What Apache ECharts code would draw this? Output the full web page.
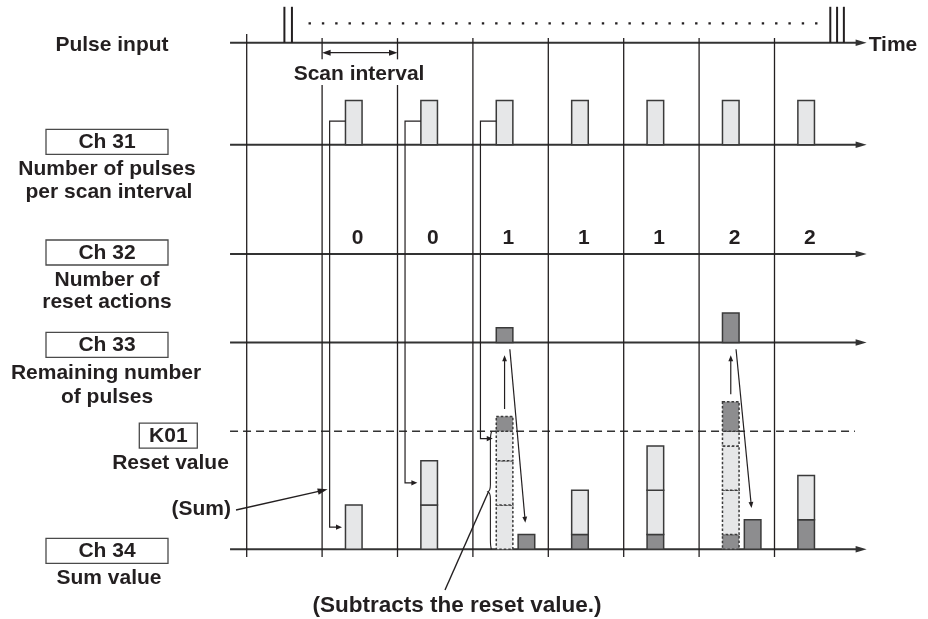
<!DOCTYPE html>
<html><head><meta charset="utf-8">
<script src="https://cdn.jsdelivr.net/npm/echarts@6/dist/echarts.min.js"></script>
<style>html,body{margin:0;padding:0;background:#fff}#c{width:928px;height:619px}</style>
</head><body><div id="c"></div>
<script>
// ---------------- data ----------------
const scanIndex        = [1, 2, 3, 4, 5, 6, 7];
const pulsesPerScan    = [3, 3, 3, 3, 3, 3, 3];   // Ch 31
const resetActions     = [0, 0, 1, 1, 1, 2, 2];   // Ch 32
const carriedRemainder = [0, 0, 0, 1, 1, 1, 2];   // remainder carried into each scan
const sumBeforeReset   = [3, 6, 9, 4, 7, 10, 5];  // Ch 34 accumulation
const remainingPulses  = [0, 0, 1, 0, 0, 2, 0];   // Ch 33
const sumAfterReset    = [3, 6, 1, 4, 7, 2, 5];   // Ch 34 after subtracting K01
const resetValue       = 8;                        // K01
const scanLines        = [0, 1, 2, 3, 4, 5, 6, 7];
const pulseTimesStart  = [0.5, 0.6];
const pulseTimesEnd    = [7.74, 7.83, 7.92];
const connectorScans   = [1, 2, 3];

// ---------------- layout / style ----------------
const LANE = { pulse: 34.3, ch31: 27.4, ch32: 20, ch33: 14, ch34: 0 };
const laneList = [LANE.pulse, LANE.ch31, LANE.ch32, LANE.ch33, LANE.ch34];
const INK = '#231f20', AXIS = '#333333', LIGHT = '#e6e7e8', DARK = '#8d8d8f', EDGE = '#3a3a3a';
const FONT = 'bold 21px "Liberation Sans", Arial, Helvetica, sans-serif';
const FONT_CALLOUT = 'bold 22.5px "Liberation Sans", Arial, Helvetica, sans-serif';
const X_START = -0.221, X_TIP = 8.222;
const BAR_L = 0.31, BAR_R = 0.53, BAR_C = 0.42, RES_OFF = 0.29;

function ln(p1, p2, style) {
  return { type: 'line', shape: { x1: p1[0], y1: p1[1], x2: p2[0], y2: p2[1] }, style: style };
}
function head(tip, from, len, half, fill) {
  const dx = tip[0] - from[0], dy = tip[1] - from[1];
  const d = Math.hypot(dx, dy) || 1, ux = dx / d, uy = dy / d;
  const bx = tip[0] - ux * len, by = tip[1] - uy * len;
  return { type: 'polygon', shape: { points: [[tip[0], tip[1]], [bx - uy * half, by + ux * half], [bx + uy * half, by - ux * half]] }, style: { fill: fill || INK } };
}
function arrow(from, tip, len, half, w, col) {
  const dx = tip[0] - from[0], dy = tip[1] - from[1];
  const d = Math.hypot(dx, dy) || 1;
  const end = [tip[0] - dx / d * (len * 0.7), tip[1] - dy / d * (len * 0.7)];
  return [ln(from, end, { stroke: col || INK, lineWidth: w || 1.2 }), head(tip, from, len, half, col || INK)];
}
function txt(p, s, align, font) {
  return { type: 'text', x: p[0], y: p[1], style: { text: s, font: font || FONT, fill: INK, align: align || 'center', verticalAlign: 'middle' } };
}
function rectPx(a, b, style) {
  const x = Math.min(a[0], b[0]), y = Math.min(a[1], b[1]);
  return { type: 'rect', shape: { x: x, y: y, width: Math.abs(b[0] - a[0]), height: Math.abs(b[1] - a[1]) }, style: style };
}

const base = { type: 'custom', coordinateSystem: 'cartesian2d', silent: true, animation: false, clip: false };
const series = [];

// lanes (horizontal time axes)
series.push(Object.assign({}, base, {
  data: laneList.map(v => [0, v]),
  renderItem: (p, api) => {
    const y = api.value(1);
    const a = api.coord([X_START, y]), t = api.coord([X_TIP, y]);
    return { type: 'group', children: arrow(a, t, 11, 3.2, 2, AXIS) };
  }
}));

// K01 reset value dashed line
series.push(Object.assign({}, base, {
  data: [[0, resetValue]],
  renderItem: (p, api) => {
    const y = api.value(1);
    return ln(api.coord([X_START, y]), api.coord([8.067, y]), { stroke: AXIS, lineWidth: 1.5, lineDash: [8, 5] });
  }
}));

// scan boundary lines
series.push(Object.assign({}, base, {
  data: scanLines.map(i => [i, 0]),
  renderItem: (p, api) => {
    const x = api.value(0);
    const st = { stroke: INK, lineWidth: 1.3 };
    const top = x === 0 ? 34.9 : 34.62, bot = -0.52;
    if (x === 1 || x === 2) {
      return { type: 'group', children: [
        ln(api.coord([x, top]), api.coord([x, 33.18]), st),
        ln(api.coord([x, 31.45]), api.coord([x, bot]), st)
      ]};
    }
    return ln(api.coord([x, top]), api.coord([x, bot]), st);
  }
}));

// pulse input marks
series.push(Object.assign({}, base, {
  data: pulseTimesStart.concat(pulseTimesEnd).map(t => [t, LANE.pulse]),
  renderItem: (p, api) => {
    const x = api.value(0), y = api.value(1);
    return ln(api.coord([x, y]), api.coord([x, 36.74]), { stroke: INK, lineWidth: 2 });
  }
}));

// frame: dotted continuation, scan interval, Time
series.push(Object.assign({}, base, {
  data: [[1, 2]],
  renderItem: (p, api) => {
    const s0 = api.value(0), s1 = api.value(1);
    const ch = [];
    ch.push(ln(api.coord([0.82, 35.62]), api.coord([7.6, 35.62]), { stroke: INK, lineWidth: 2.4, lineDash: [2.4, 10.93] }));
    const a = api.coord([s0, 33.63]), b = api.coord([s1, 33.63]);
    ch.push(ln([a[0] + 6, a[1]], [b[0] - 6, b[1]], { stroke: INK, lineWidth: 1.3 }));
    ch.push(head(a, b, 8.5, 3));
    ch.push(head(b, a, 8.5, 3));
    ch.push(txt(api.coord([(s0 + s1) / 2 - 0.01, 32.2]), 'Scan interval'));
    const tp = api.coord([X_TIP, LANE.pulse]);
    ch.push(txt([tp[0] + 2, tp[1] + 2], 'Time', 'left'));
    return { type: 'group', children: ch };
  }
}));

// Ch31 bars
series.push(Object.assign({}, base, {
  data: scanIndex.map((s, i) => [s, pulsesPerScan[i]]),
  renderItem: (p, api) => {
    const s = api.value(0), v = api.value(1);
    return rectPx(api.coord([s + BAR_L, LANE.ch31 + v]), api.coord([s + BAR_R, LANE.ch31]), { fill: LIGHT, stroke: EDGE, lineWidth: 1.5 });
  }
}));

// Ch32 numbers
series.push(Object.assign({}, base, {
  data: scanIndex.map((s, i) => [s, resetActions[i]]),
  renderItem: (p, api) => {
    const s = api.value(0), v = api.value(1);
    return txt(api.coord([s + 0.47, LANE.ch32 + 1.05]), String(v));
  }
}));

// Ch33 bars (only when a reset happens)
series.push(Object.assign({}, base, {
  data: scanIndex.map((s, i) => [s, remainingPulses[i], sumBeforeReset[i]]),
  renderItem: (p, api) => {
    const s = api.value(0), v = api.value(1), sum = api.value(2);
    if (sum < resetValue) return null;
    return rectPx(api.coord([s + BAR_L, LANE.ch33 + v]), api.coord([s + BAR_R, LANE.ch33]), { fill: DARK, stroke: EDGE, lineWidth: 1.5 });
  }
}));

// Ch34 bars
series.push(Object.assign({}, base, {
  data: scanIndex.map((s, i) => [s, sumBeforeReset[i], carriedRemainder[i], pulsesPerScan[i], sumAfterReset[i]]),
  renderItem: (p, api) => {
    const s = api.value(0), sum = api.value(1), carry = api.value(2), step = api.value(3), after = api.value(4);
    const reset = sum >= resetValue;
    const bounds = [0];
    if (carry > 0) bounds.push(carry);
    for (let v = carry + step; v < sum; v += step) bounds.push(v);
    if (reset) bounds.push(resetValue);
    bounds.push(sum);
    const bs = Array.from(new Set(bounds)).sort((a, b) => a - b);
    const ch = [];
    const st = reset ? { stroke: EDGE, lineWidth: 1.5, lineDash: [2.5, 2] } : { stroke: EDGE, lineWidth: 1.5 };
    for (let k = 0; k < bs.length - 1; k++) {
      const lo = bs[k], hi = bs[k + 1];
      const dark = hi <= carry || (reset && lo >= resetValue);
      ch.push(rectPx(api.coord([s + BAR_L, hi]), api.coord([s + BAR_R, lo]), Object.assign({ fill: dark ? DARK : LIGHT }, st)));
    }
    if (reset) {
      ch.push(rectPx(api.coord([s + BAR_L + RES_OFF, after]), api.coord([s + BAR_R + RES_OFF, 0]), { fill: DARK, stroke: EDGE, lineWidth: 1.5 }));
    }
    return { type: 'group', children: ch };
  }
}));

// connectors Ch31 -> Ch34
series.push(Object.assign({}, base, {
  data: connectorScans.map(s => [s, sumBeforeReset[s - 1] - pulsesPerScan[s - 1] / 2]),
  renderItem: (p, api) => {
    const s = api.value(0), ty = api.value(1);
    const a = api.coord([s + BAR_L, LANE.ch31 + 1.6]);
    const b = api.coord([s + 0.1, LANE.ch31 + 1.6]);
    const c = api.coord([s + 0.1, ty]);
    const tip = api.coord([s + BAR_L, ty]);
    tip[0] -= 3.5;
    const ch = [{ type: 'polyline', shape: { points: [a, b, c, [tip[0] - 3, tip[1]]] }, style: { stroke: INK, lineWidth: 1.2, fill: null } }];
    ch.push(head(tip, c, 6, 2.6));
    return { type: 'group', children: ch };
  }
}));

// reset arrows (Ch34 -> Ch33 -> Ch34)
series.push(Object.assign({}, base, {
  data: scanIndex.map((s, i) => [s, sumBeforeReset[i], sumAfterReset[i]]),
  renderItem: (p, api) => {
    const s = api.value(0), sum = api.value(1), after = api.value(2);
    if (sum < resetValue) return null;
    const ch = [];
    ch.push(...arrow(api.coord([s + BAR_C, sum + 0.5]), api.coord([s + BAR_C, LANE.ch33 - 0.85]), 6, 2.4, 1.2));
    ch.push(...arrow(api.coord([s + BAR_C + 0.07, LANE.ch33 - 0.45]), api.coord([s + BAR_C + RES_OFF - 0.015, after + 0.8]), 6, 2.4, 1.2));
    return { type: 'group', children: ch };
  }
}));

// brace + "(Subtracts the reset value.)" callout on the first reset
series.push(Object.assign({}, base, {
  data: [[scanIndex[sumBeforeReset.findIndex(v => v >= resetValue)], resetValue]],
  renderItem: (p, api) => {
    const s = api.value(0), r = api.value(1);
    const T = api.coord([s + 0.249, r]), B = api.coord([s + 0.245, 0]);
    const tip = api.coord([s + 0.2, 3.9]);
    const xm = api.coord([s + 0.232, 0])[0];
    const d = 'M' + T[0] + ',' + T[1] +
      ' C' + xm + ',' + (T[1] + 3) + ' ' + xm + ',' + (T[1] + 5) + ' ' + xm + ',' + (T[1] + 10) +
      ' L' + xm + ',' + (tip[1] - 7) +
      ' Q' + xm + ',' + (tip[1] - 1) + ' ' + tip[0] + ',' + tip[1] +
      ' Q' + xm + ',' + (tip[1] + 1) + ' ' + xm + ',' + (tip[1] + 7) +
      ' L' + xm + ',' + (B[1] - 10) +
      ' C' + xm + ',' + (B[1] - 5) + ' ' + xm + ',' + (B[1] - 3) + ' ' + B[0] + ',' + B[1];
    return { type: 'group', children: [
      { type: 'path', shape: { pathData: d }, style: { stroke: INK, lineWidth: 1.1, fill: null } },
      ln([tip[0] + 0.5, tip[1]], [445, 590], { stroke: INK, lineWidth: 1.4 }),
      txt([457, 606], '(Subtracts the reset value.)', 'center', FONT_CALLOUT)
    ]};
  }
}));

// (Sum) arrow pointing at first connector
series.push(Object.assign({}, base, {
  data: [[connectorScans[0], 4.06]],
  renderItem: (p, api) => {
    const s = api.value(0), y = api.value(1);
    const tip = api.coord([s + 0.1, y]);
    tip[0] -= 2;
    return { type: 'group', children: arrow([236, 510], tip, 10, 3.2, 1.4).concat([txt([231, 509.3], '(Sum)', 'right')]) };
  }
}));

// left labels
const LX = 107;
function box(cx, cy, w, label) {
  return [
    { type: 'rect', shape: { x: cx - w / 2, y: cy - 12.5, width: w, height: 25 }, style: { fill: '#fff', stroke: '#4a4a4a', lineWidth: 1.3 } },
    { type: 'text', x: cx, y: cy + 0.5, style: { text: label, font: FONT, fill: INK, align: 'center', verticalAlign: 'middle' } }
  ];
}
function gtxt(x, y, s, align) {
  return { type: 'text', x: x, y: y, style: { text: s, font: FONT, fill: INK, align: align || 'center', verticalAlign: 'middle' } };
}
const graphics = [].concat(
  [gtxt(112, 45, 'Pulse input')],
  box(LX, 141.8, 122, 'Ch 31'), [gtxt(LX, 169, 'Number of pulses'), gtxt(LX + 2, 192, 'per scan interval')],
  box(LX, 252.5, 122, 'Ch 32'), [gtxt(LX, 280, 'Number of'), gtxt(LX, 302, 'reset actions')],
  box(LX, 344.8, 122, 'Ch 33'), [gtxt(LX - 1, 373, 'Remaining number'), gtxt(LX, 397.5, 'of pulses')],
  box(168.3, 435.7, 58, 'K01'), [gtxt(170.5, 463.5, 'Reset value')],
  box(LX, 550.8, 122, 'Ch 34'), [gtxt(LX + 2, 578, 'Sum value')]
);

const chart = echarts.init(document.getElementById('c'), null, { renderer: 'canvas' });
chart.setOption({
  animation: false,
  backgroundColor: '#fff',
  grid: { left: 246.7, right: 78.1, top: 0, bottom: 69.7 },
  xAxis: { type: 'value', min: 0, max: 8, show: false },
  yAxis: { type: 'value', min: 0, max: 37.2, show: false },
  graphic: { elements: graphics },
  series: series
});
</script></body></html>
